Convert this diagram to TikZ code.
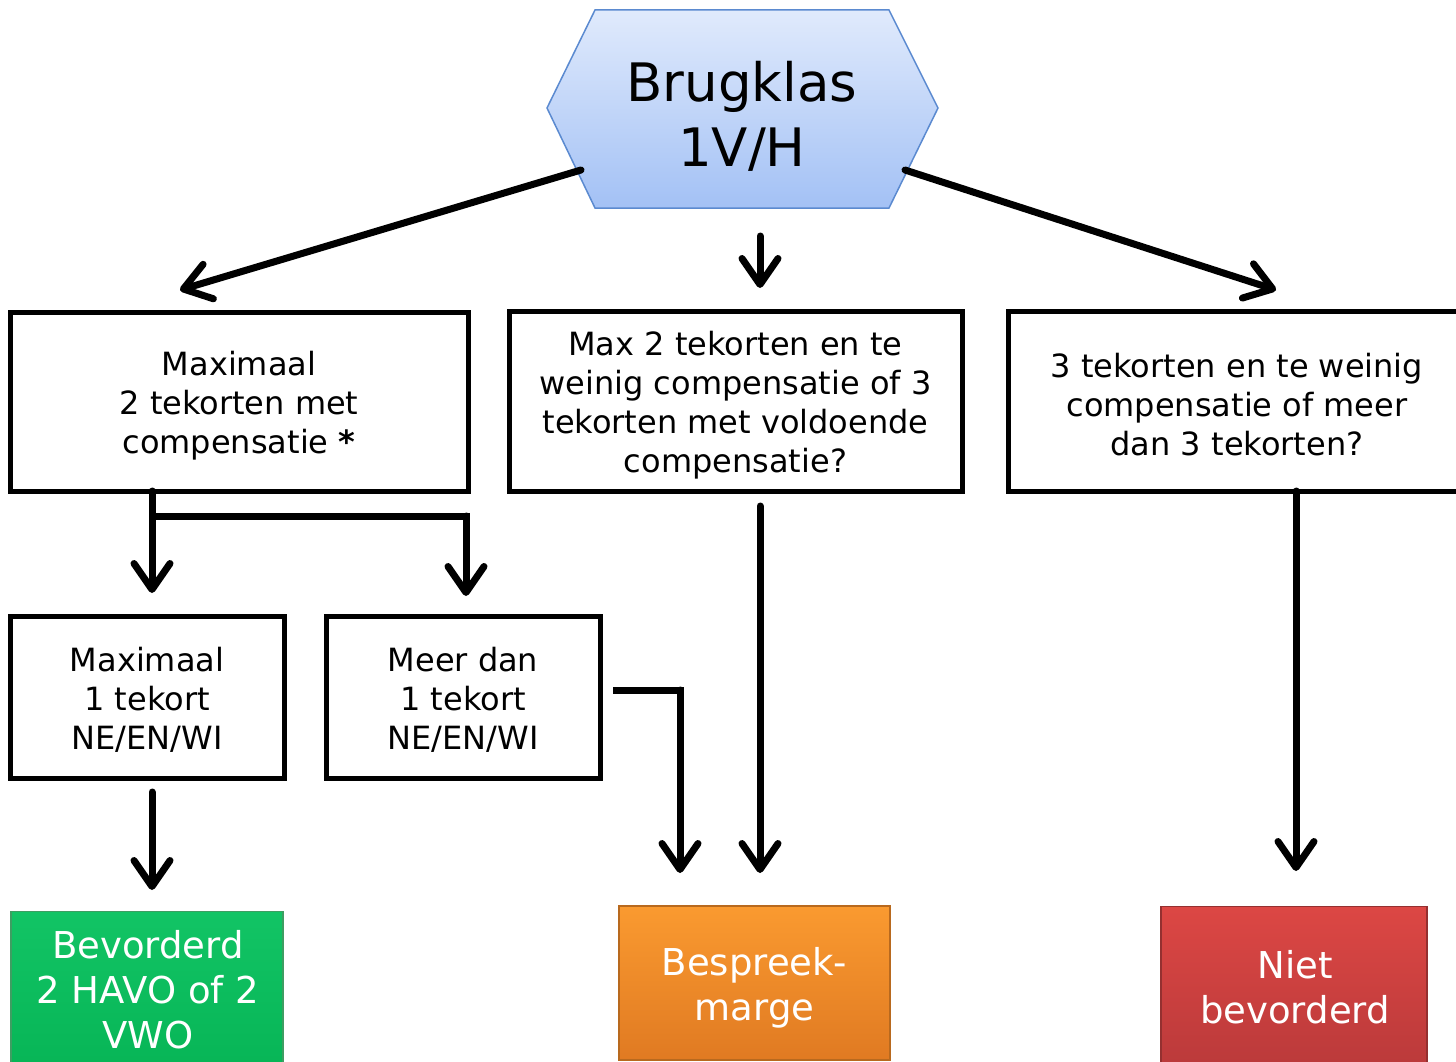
\documentclass[tikz,border=0pt]{standalone}
\usepackage{fontspec}
\setmainfont{DejaVu Sans}
\usetikzlibrary{arrows.meta}
\definecolor{hexline}{HTML}{5B8AD0}
\definecolor{hextop}{HTML}{E0EAFC}
\definecolor{hexbot}{HTML}{A3C1F5}
\definecolor{grtop}{HTML}{12C465}
\definecolor{grbot}{HTML}{06B455}
\definecolor{grline}{HTML}{3E9E62}
\definecolor{ortop}{HTML}{FA9A30}
\definecolor{orbot}{HTML}{E07A22}
\definecolor{orline}{HTML}{B8691E}
\definecolor{rdtop}{HTML}{DC4744}
\definecolor{rdbot}{HTML}{B9393A}
\definecolor{rdline}{HTML}{943030}
\tikzset{
  qbox/.style={draw=black, line width=5pt, fill=white, align=center, inner sep=0pt,
    font=\fontsize{32}{39}\selectfont},
  resbox/.style={align=center, inner sep=0pt, text=white, line width=1.2pt,
    font=\fontsize{37}{45}\selectfont},
  arr/.style={line width=7pt, line cap=round, line join=round,
    -{Straight Barb[length=26pt,width=36pt,line cap=round,line join=round]}},
  conn/.style={line width=7pt, line join=miter}
}
\newcommand{\lowr}[1]{\rule{0pt}{#1}}
\begin{document}
\begin{tikzpicture}[x=1pt,y=-1pt]
\useasboundingbox (0,0) rectangle (1456,1062);
\clip (0,0) rectangle (1456,1062);
% hexagon
\draw[hexline, line width=1.5pt, top color=hextop, bottom color=hexbot]
  (595,10) -- (889,10) -- (938,108) -- (889,208) -- (595,208) -- (547,108) -- cycle;
\node[align=center, inner sep=0pt, font=\fontsize{53}{65}\selectfont] (hex) at (742,116) {Brugklas\\1V/H};
\coordinate (hl) at (581,170);
\coordinate (hr) at (905,170);
\coordinate (hm) at (760,236);
\coordinate (tl) at (180,290);
\coordinate (tm) at (760,288);
\coordinate (tr) at (1276,290);
% question boxes
\node[qbox, minimum width=458pt, minimum height=179pt] (b1) at (239,401.5) {\lowr{32pt}Maximaal\\2 tekorten met\\compensatie \textbf{*}};
\node[qbox, minimum width=453pt, minimum height=180pt] (b2) at (735.5,401) {\lowr{32pt}Max 2 tekorten en te\\weinig compensatie of 3\\tekorten met voldoende\\compensatie?};
\node[qbox, minimum width=458pt, minimum height=180pt] (b3) at (1237,401) {\lowr{32pt}3 tekorten en te weinig\\compensatie of meer\\dan 3 tekorten?};
% second row
\node[qbox, minimum width=274pt, minimum height=162pt] (b4) at (147,697) {\lowr{29pt}Maximaal\\1 tekort\\NE/EN/WI};
\node[qbox, minimum width=274pt, minimum height=162pt] (b5) at (463,697) {\lowr{29pt}Meer dan\\1 tekort\\NE/EN/WI};
% result boxes
\node[resbox, draw=grline, top color=grtop, bottom color=grbot, minimum width=272pt, minimum height=170pt, anchor=north] (g) at (147,911) {};
\node[resbox, text=white] (gt) at (148,990) {Bevorderd\\2 HAVO of 2\\VWO};
\node[resbox, draw=orline, top color=ortop, bottom color=orbot, minimum width=271pt, minimum height=154pt] (o) at (754.5,983) {\lowr{37pt}Bespreek-\\marge};
\node[resbox, draw=rdline, top color=rdtop, bottom color=rdbot, minimum width=266pt, minimum height=170pt, anchor=north] (r) at (1294,906) {};
\node[resbox, text=white] (rt) at (1295,987) {Niet\\bevorderd};
% arrows from hexagon
\draw[arr] (hl) -- (tl);
\draw[arr] (hr) -- (tr);
\draw[arr] (hm) -- (tm);
% branch from b1
\coordinate (s1) at (152,491);
\coordinate (j1) at (152,516);
\coordinate (t4) at (152,593);
\coordinate (t5) at (466,596);
\draw[arr] (s1) -- (t4);
\draw[conn] (j1) -- (466,516) -- (466,540);
\draw[arr] (466,516) -- (t5);
% b4 to green
\coordinate (s4) at (152,792);
\coordinate (tg) at (152,890);
\draw[arr] (s4) -- (tg);
% b5 elbow to orange
\coordinate (s5) at (613,690);
\coordinate (to1) at (680,873);
\draw[conn] (s5) -- (680,690) -- (680,720);
\draw[arr] (680,690) -- (to1);
% b2 to orange
\coordinate (s2) at (760,506);
\coordinate (to2) at (760,873);
\draw[arr] (s2) -- (to2);
% b3 to red
\coordinate (s3) at (1296,491);
\coordinate (tr2) at (1296,871);
\draw[arr] (s3) -- (tr2);
\end{tikzpicture}
\end{document}
